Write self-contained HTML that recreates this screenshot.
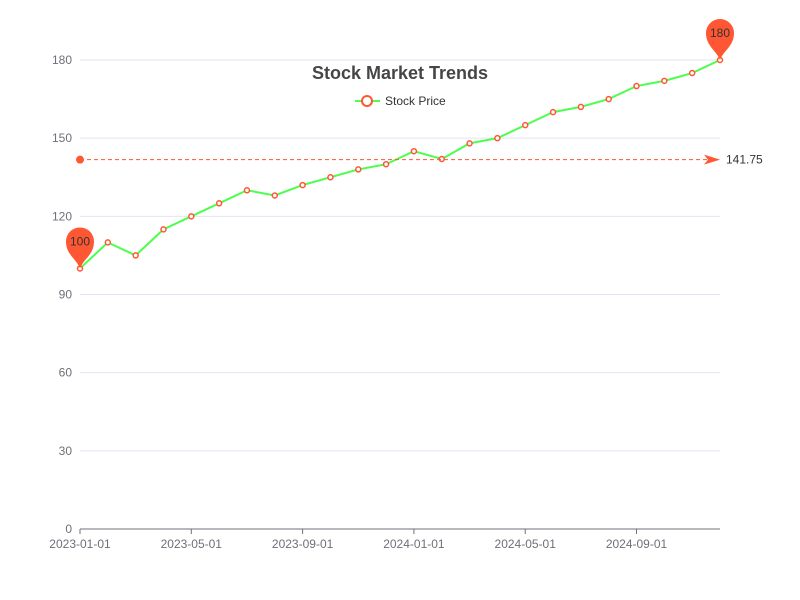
<!DOCTYPE html>
<html><head><meta charset="utf-8"><style>
body{margin:0;background:#fff;}
svg{display:block;font-family:"Liberation Sans",sans-serif;}
</style></head><body>
<svg id="chart" width="800" height="600">
<text x="400" y="79" text-anchor="middle" font-size="18" font-weight="bold" fill="#464646">Stock Market Trends</text>
<g>
<line x1="355" y1="101" x2="380" y2="101" stroke="#4cff4c" stroke-width="2"/>
<circle cx="367" cy="101" r="5" fill="#fff" stroke="#ff5733" stroke-width="2"/>
<text x="385" y="105" font-size="12" fill="#333">Stock Price</text>
</g>
<g id="grid"></g><g id="axes"></g><g id="series"></g><g id="marks"></g>
</svg>
<script>
const categories=["2023-01-01","2023-02-01","2023-03-01","2023-04-01","2023-05-01","2023-06-01","2023-07-01","2023-08-01","2023-09-01","2023-10-01","2023-11-01","2023-12-01","2024-01-01","2024-02-01","2024-03-01","2024-04-01","2024-05-01","2024-06-01","2024-07-01","2024-08-01","2024-09-01","2024-10-01","2024-11-01","2024-12-01"];
const prices=[100,110,105,115,120,125,130,128,132,135,138,140,145,142,148,150,155,160,162,165,170,172,175,180];
const yTicks=[0,30,60,90,120,150,180];
const NS="http://www.w3.org/2000/svg";
const L=80,R=720,T=60,B=529,YMAX=180;
const xs=i=>L+i*(R-L)/(categories.length-1);
const ys=v=>B-v/YMAX*(B-T);
function mk(tag,attrs,parent){const e=document.createElementNS(NS,tag);for(const k in attrs)e.setAttribute(k,attrs[k]);document.getElementById(parent).appendChild(e);return e;}
yTicks.forEach(t=>{
 if(t>0){const g=mk('line',{x1:L,x2:R,y1:ys(t),y2:ys(t),stroke:'#e0e6f1'},'grid');
 
 }
 const tx=mk('text',{x:L-8,y:ys(t)+4,'text-anchor':'end','font-size':12,fill:'#6e7079'},'axes');tx.textContent=t;
 
 
});
const ax=mk('line',{x1:L,x2:R,y1:B,y2:B,stroke:'#6e7079'},'axes');


categories.forEach((c,i)=>{
 if(i%4!==0)return;
 mk('line',{x1:xs(i),x2:xs(i),y1:B,y2:B+5,stroke:'#6e7079'},'axes');
 const tx=mk('text',{x:xs(i),y:B+19,'text-anchor':'middle','font-size':12,fill:'#6e7079'},'axes');tx.textContent=c;
 
 
});
const line=mk('polyline',{points:prices.map((v,i)=>xs(i)+','+ys(v)).join(' '),fill:'none',stroke:'#4cff4c','stroke-width':2},'series');


prices.forEach((v,i)=>{
 const c=mk('circle',{cx:xs(i),cy:ys(v),r:2.5,fill:'#fff',stroke:'#ff5733','stroke-width':1.5},'series');
 
 
});
// average line
const avg=prices.reduce((a,b)=>a+b,0)/prices.length;
const ay=ys(avg);
const al=mk('line',{x1:L,x2:R-6,y1:ay,y2:ay,stroke:'#ff5733','stroke-dasharray':'4,3'},'marks');


mk('circle',{cx:L,cy:ay,r:4,fill:'#ff5733'},'marks');
mk('path',{d:`M${R-16},${ay-5} L${R},${ay} L${R-16},${ay+5} L${R-12},${ay} Z`,fill:'#ff5733'},'marks');
const at=mk('text',{x:R+6,y:ay+4,'font-size':12,fill:'#333'},'marks');at.textContent=(Math.round(avg*100)/100).toString();


// min/max pins
function pin(i,v,name){
 const x=xs(i),y=ys(v);
 const p=mk('path',{d:`M${x},${y} C${x-4},${y-10} ${x-14},${y-14} ${x-14},${y-27} A14,14 0 1 1 ${x+14},${y-27} C${x+14},${y-14} ${x+4},${y-10} ${x},${y} Z`,fill:'#ff5733'},'marks');
 
 
 const t=mk('text',{x:x,y:y-23,'text-anchor':'middle','font-size':12,fill:'#333'},'marks');t.textContent=v;
}
const mx=Math.max(...prices),mn=Math.min(...prices);
pin(prices.indexOf(mx),mx,'max-pin');
pin(prices.indexOf(mn),mn,'min-pin');
</script>
</body></html>
